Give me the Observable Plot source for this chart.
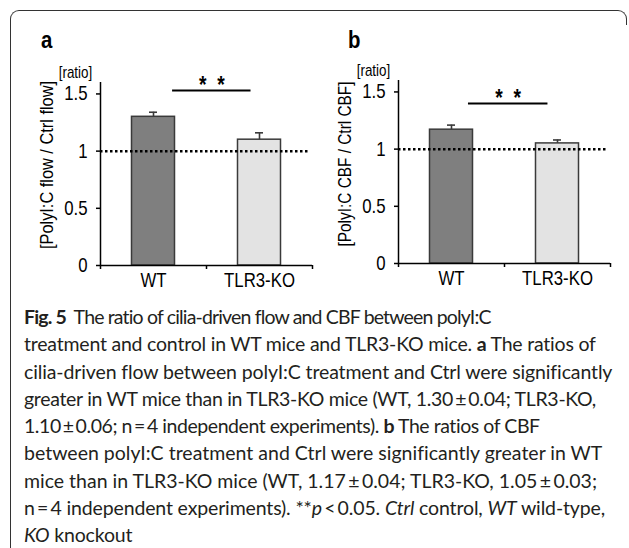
<!DOCTYPE html>
<html>
<head>
<meta charset="utf-8">
<script src="https://cdn.jsdelivr.net/npm/d3@7"></script>
<script src="https://cdn.jsdelivr.net/npm/@observablehq/plot@0.6"></script>
<style>
  html, body { margin: 0; padding: 0; background: #fff; }
  #wrap { position: relative; width: 629px; height: 548px; overflow: hidden; background: #fff; }
  .frameL { position: absolute; left: 10px; top: 10px; width: 600px; height: 560px; border-top: 1.2px solid #333; border-left: 1.2px solid #333; border-top-left-radius: 9px; }
  .frameR { position: absolute; left: 600px; top: 10px; width: 26px; height: 14px; border-top: 1.2px solid #333; border-right: 1.2px solid #333; border-top-right-radius: 9px; }
  .panel { position: absolute; }
  .letter { position: absolute; font-family: "Liberation Sans", Arial, sans-serif; font-weight: bold; font-size: 24px; color: #000; transform: scaleX(0.85); transform-origin: left top; }
  #caption { position: absolute; left: 24px; top: 303px; font-family: "Lato", "Open Sans", sans-serif; font-size: 19.5px; line-height: 27.3px; color: #231f20; }
  #caption div { white-space: nowrap; width: max-content; }
</style>
</head>
<body>
<div id="wrap">
  <div class="frameL"></div>
  <div class="frameR"></div>
  <div class="letter" style="left:41px; top:26px;">a</div>
  <div class="letter" style="left:348px; top:26px;">b</div>
  <div class="panel" id="pa" style="left:20px; top:60px;"></div>
  <div class="panel" id="pb" style="left:318px; top:58px;"></div>
  <div id="caption"></div>
</div>
<script>
// ---- data ----
const categories = ["WT", "TLR3-KO"];
const flowRatio = [1.30, 1.10];
const flowSEM = [0.04, 0.06];
const cbfRatio = [1.17, 1.05];
const cbfSEM = [0.04, 0.03];
const barFills = ["#7f7f7f", "#e3e3e3"];
const yTicks = [0, 0.5, 1, 1.5];
const yLabelA = "[PolyI:C flow / Ctrl flow]";
const yLabelB = "[PolyI:C CBF / Ctrl CBF]";
const unitLabel = "[ratio]";
// significance brackets (x in category-index units, y in ratio units)
const sigA = [{x1: 0.68, x2: 1.42, y: 1.53, text: "*  *"}];
const sigB = [{x1: 0.66, x2: 1.41, y: 1.40, text: "*  *"}];
const captionLines = [
  "<b>Fig. 5</b>&nbsp; The ratio of cilia-driven flow and CBF between polyI:C",
  "treatment and control in WT mice and TLR3-KO mice. <b>a</b> The ratios of",
  "cilia-driven flow between polyI:C treatment and Ctrl were significantly",
  "greater in WT mice than in TLR3-KO mice (WT, 1.30\u2009\u00b1\u20090.04; TLR3-KO,",
  "1.10\u2009\u00b1\u20090.06; n\u2009=\u20094 independent experiments). <b>b</b> The ratios of CBF",
  "between polyI:C treatment and Ctrl were significantly greater in WT",
  "mice than in TLR3-KO mice (WT, 1.17\u2009\u00b1\u20090.04; TLR3-KO, 1.05\u2009\u00b1\u20090.03;",
  "n\u2009=\u20094 independent experiments). **<i>p</i>\u2009&lt;\u20090.05. <i>Ctrl</i> control, <i>WT</i> wild-type,",
  "<i>KO</i> knockout"
];
// right edge of each caption line in the reference (px); null = use typical spacing
const captionLineEnds = [491, 596, 612, 596, 540, 602, 597, 605, null];

const FONT = "'Liberation Sans', Arial, sans-serif";
const SQUEEZE = 0.84; // the reference chart text is horizontally condensed

function panel(means, sems, sig, yLabel, yLabelLength, yLabelDy) {
  const data = categories.map((c, i) => ({i, c, v: means[i], e: sems[i], fill: barFills[i]}));
  const svg = Plot.plot({
    width: 300, height: 230,
    marginLeft: 80, marginRight: 8, marginTop: 22, marginBottom: 25,
    x: {domain: [0, 2], axis: null},
    y: {domain: [0, 1.6], axis: null},
    style: {fontFamily: FONT, fontSize: "20px", color: "#000", background: "transparent", overflow: "visible"},
    marks: [
      Plot.rect(data, {x1: "i", x2: d => d.i + 1, y1: () => 0, y2: "v", fill: "fill", stroke: "#3a3a3a", strokeWidth: 1.5, insetLeft: 31.5, insetRight: 31.5}),
      Plot.ruleX(data, {x: d => d.i + 0.5, y1: "v", y2: d => d.v + d.e, stroke: "#3a3a3a", strokeWidth: 1.6}),
      Plot.ruleY(data, {y: d => d.v + d.e, x1: d => d.i + 0.5, x2: d => d.i + 0.5, insetLeft: -4, insetRight: -4, stroke: "#3a3a3a", strokeWidth: 1.6}),
      Plot.ruleY([1], {stroke: "#000", strokeWidth: 2.5, strokeDasharray: "2.5,2.5", insetRight: 4}),
      Plot.ruleX([0], {stroke: "#000", strokeWidth: 1.5}),
      Plot.ruleY([0], {stroke: "#000", strokeWidth: 1.5}),
      Plot.axisY({ticks: yTicks, tickSize: 4, tickPadding: 9, tickFormat: d => String(d), label: null, strokeWidth: 1.5, fontSize: 20}),
      Plot.axisX({ticks: [0, 1, 2], tickSize: 4, tickFormat: () => "", label: null, strokeWidth: 1.5}),
      Plot.axisX({ticks: [0.5, 1.5], tickSize: 0, tickPadding: 7, tickFormat: d => categories[Math.floor(d)], label: null, fontSize: 20}),
      Plot.ruleY(sig, {y: "y", x1: "x1", x2: "x2", stroke: "#000", strokeWidth: 2}),
      Plot.text(sig, {x: d => (d.x1 + d.x2) / 2, y: "y", text: "text", dy: -5, fontSize: 23, fontWeight: "bold", lineAnchor: "middle"}),
      Plot.text([yLabel], {frameAnchor: "left", rotate: -90, dx: -53, dy: yLabelDy, fontSize: 18.5, textAnchor: "middle", lineAnchor: "middle"}),
      Plot.text([unitLabel], {frameAnchor: "top-left", dx: -25, dy: -10, fontSize: 16, textAnchor: "middle", lineAnchor: "middle"})
    ]
  });
  svg.querySelectorAll("text").forEach(t => {
    if (t.textContent === yLabel) {
      // fit the rotated axis title to the reference length
      t.setAttribute("textLength", yLabelLength);
      t.setAttribute("lengthAdjust", "spacingAndGlyphs");
      return;
    }
    // condense every other text horizontally about its anchor point
    const tr = t.getAttribute("transform") || "";
    t.setAttribute("transform", (tr + ` scale(${SQUEEZE},1)`).trim());
  });
  return svg;
}

document.getElementById("pa").appendChild(panel(flowRatio, flowSEM, sigA, yLabelA, 168, -9));
document.getElementById("pb").appendChild(panel(cbfRatio, cbfSEM, sigB, yLabelB, 165, -8));

const cap = document.getElementById("caption");
const capLeft = 24;
const spacings = [];
const divs = captionLines.map((l, k) => {
  const d = document.createElement("div");
  d.innerHTML = l;
  cap.appendChild(d);
  const end = captionLineEnds[k];
  if (end != null) {
    const w = d.getBoundingClientRect().width;
    const ls = (end - capLeft - w) / d.textContent.length;
    d.style.letterSpacing = ls + "px";
    spacings.push(ls);
  }
  return d;
});
const typical = d3.median(spacings);
captionLineEnds.forEach((e, k) => { if (e == null) divs[k].style.letterSpacing = typical + "px"; });
</script>
</body>
</html>
